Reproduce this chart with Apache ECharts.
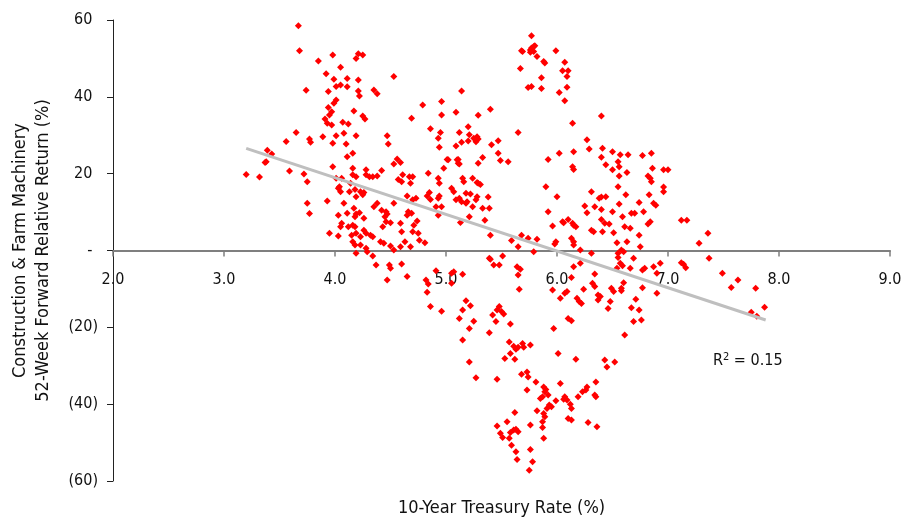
<!DOCTYPE html>
<html><head><meta charset="utf-8">
<script src="https://cdn.jsdelivr.net/npm/echarts@6/dist/echarts.min.js"></script>
<style>html,body{margin:0;padding:0;background:#fff}#c{width:903px;height:523px}</style>
</head><body><div id="c"></div>
<script>
// [10-Year Treasury Rate (%), 52-Week Forward Relative Return (%)]
const ratePoints = [
[3.20,19.8],[3.32,19.1],[3.37,22.9],[3.38,23.1],[3.39,26.1],[3.43,25.1],[3.56,28.4],[3.59,20.7],[3.65,30.7],[3.67,58.5],[3.68,52.0],
[3.85,49.3],[3.98,50.9],[4.05,47.7],[4.19,50.0],[4.21,51.2],[4.25,50.9],[3.92,46.0],[3.99,44.6],[4.11,44.8],[4.21,44.4],[4.53,45.3],
[3.74,41.7],[3.94,41.4],[4.01,42.7],[4.05,43.1],[4.11,42.6],[4.21,41.5],[4.22,40.2],[4.35,41.8],[4.38,40.8],[4.01,39.2],[3.99,38.3],
[3.94,37.2],[3.97,36.1],[3.95,35.3],[3.91,34.2],[3.93,33.1],[3.97,32.7],[4.17,36.3],[4.25,35.0],[4.27,34.2],[4.07,33.4],[4.12,32.9],
[3.77,29.0],[3.78,28.2],[3.89,29.6],[4.01,29.9],[4.08,30.5],[3.98,27.9],[4.10,27.7],[4.19,29.9],[4.16,25.3],[4.11,24.4],[4.47,29.9],
[4.48,27.7],[4.56,23.8],[4.59,22.9],[4.53,22.5],[4.79,37.9],[4.69,34.4],[4.96,38.8],[4.96,35.3],[5.14,41.5],[5.09,36.0],[4.86,31.7],
[4.95,30.7],[4.93,29.2],[5.12,30.7],[5.14,28.2],[5.20,32.2],[5.20,28.5],[4.94,26.9],[5.09,27.2],[5.01,23.7],[5.11,23.7],[5.12,22.5],
[3.72,19.9],[3.75,17.9],[3.75,12.3],[3.77,9.6],[3.93,12.9],[3.95,4.5],[3.98,21.8],[4.01,18.8],[4.04,16.6],[4.06,18.8],[4.05,15.3],
[4.08,12.3],[4.11,9.7],[4.03,9.2],[4.06,7.1],[4.05,6.2],[4.03,3.8],[4.12,6.2],[4.16,21.4],[4.16,19.7],[4.19,19.2],[4.14,17.5],
[4.13,15.3],[4.18,15.9],[4.23,15.3],[4.25,14.5],[4.26,15.1],[4.19,14.0],[4.28,21.0],[4.28,19.7],[4.31,19.2],[4.34,19.2],[4.38,19.4],
[4.42,20.8],[4.38,12.3],[4.35,11.4],[4.42,10.5],[4.46,10.1],[4.47,9.5],[4.45,8.8],[4.53,12.3],[4.17,11.0],[4.18,8.8],[4.19,9.5],
[4.22,9.8],[4.26,8.4],[4.16,6.6],[4.18,6.2],[4.19,4.5],[4.15,4.0],[4.26,5.3],[4.28,4.5],[4.32,4.0],[4.34,3.6],[4.23,3.6],[4.16,2.3],
[4.18,1.4],[4.19,-0.7],[4.23,1.4],[4.28,0.6],[4.41,2.3],[4.44,1.9],[4.50,1.2],[4.53,0.1],[4.43,6.2],[4.46,7.5],[4.50,7.2],[4.60,17.9],
[4.61,19.7],[4.57,18.5],[4.67,19.2],[4.70,19.2],[4.68,17.5],[4.65,14.2],[4.70,13.2],[4.73,13.6],[4.66,10.1],[4.69,9.7],[4.65,9.2],
[4.74,7.7],[4.71,6.6],[4.70,4.9],[4.75,4.5],[4.76,2.7],[4.81,2.0],[4.59,7.1],[4.60,4.9],[4.63,2.3],[4.68,1.0],[4.59,1.0],[4.84,20.1],
[4.85,15.1],[4.83,14.2],[4.86,13.3],[4.93,18.8],[4.94,14.2],[4.93,13.6],[4.91,11.4],[4.96,11.4],[4.93,9.2],[4.98,21.4],[5.02,23.6],
[5.05,16.2],[5.07,15.3],[5.10,23.6],[5.11,22.7],[5.09,13.2],[5.12,13.6],[5.14,12.7],[5.15,18.8],[5.16,17.9],[5.18,14.9],[5.19,12.7],
[5.24,11.4],[5.13,7.3],[5.21,8.8],[5.28,14.0],[5.29,17.5],[4.03,16.2],
[4.29,-0.3],[4.34,-1.4],[4.37,-3.8],[4.49,-3.8],[4.50,-4.6],[4.47,-7.7],[4.60,-3.5],[4.65,-6.8],[4.82,-7.7],[4.84,-8.7],[5.05,-5.9],
[4.91,-5.3],[5.39,-2.0],
[5.21,30.1],[5.25,29.2],[5.28,29.6],[5.29,29.0],[5.27,28.3],[5.40,36.8],[5.29,35.2],[5.41,27.5],[5.47,28.6],[5.47,25.3],[5.49,23.4],
[5.56,23.1],[5.33,24.2],[5.29,22.7],[4.94,17.5],[5.24,18.8],[5.28,17.7],[5.31,17.2],[5.22,14.7],[5.18,12.3],[5.27,13.2],[5.38,13.9],
[5.33,11.0],[5.39,11.0],[5.35,7.9],[5.40,4.0],[5.59,2.6],[5.65,1.0],[5.68,4.0],[5.74,3.2],[5.82,2.9],[5.79,-0.3],[5.90,16.6],
[5.92,23.7],[5.92,10.1],[6.00,14.0],[6.02,25.3],[5.96,6.4],[5.99,2.3],[5.98,1.7],[6.05,7.5],[6.06,7.2],[6.10,8.1],[6.14,7.1],
[6.15,6.6],[6.17,6.2],[6.13,3.2],[6.15,2.3],[6.15,1.4],[6.21,0.1],[6.15,25.7],[6.14,33.1],[6.14,21.8],[6.15,21.1],[6.27,28.8],
[6.29,26.4],[6.40,35.0],[6.41,26.6],[6.40,24.3],[6.44,22.3],[6.50,25.7],[6.55,23.1],[6.57,24.9],[6.64,24.9],[6.50,21.0],[6.56,21.8],
[6.56,19.4],[6.63,20.3],[6.77,24.7],[6.85,25.3],[6.86,21.4],[6.82,19.4],[6.84,18.8],[6.55,16.6],[6.31,15.3],[6.38,13.6],[6.40,13.9],
[6.44,14.0],[6.34,11.4],[6.25,11.6],[6.40,10.7],[6.50,10.1],[6.56,12.1],[6.62,14.5],[6.67,9.7],[6.70,9.7],[6.74,12.5],[6.78,10.1],
[6.83,14.5],[6.87,12.3],[6.89,11.8],[6.27,9.8],[6.40,8.1],[6.43,7.1],[6.47,6.9],[6.59,8.8],[6.31,5.3],[6.33,4.9],[6.41,4.9],
[6.51,4.6],[6.66,5.8],[6.74,4.0],[6.82,6.9],[6.84,7.5],[6.54,2.0],[6.63,2.3],[6.75,1.0],[6.55,-0.7],[6.58,0.1],[6.60,-0.3],[6.55,-1.8],
[6.69,-2.0],[6.79,-4.6],[6.87,-4.2],[6.90,-5.9],[6.93,-3.3],[6.57,-3.3],[6.59,-4.0],[6.66,-4.6],[6.54,-4.6],[5.40,-2.3],[5.43,-3.8],
[5.48,-3.8],[5.51,-1.4],[5.64,-4.2],[5.67,-4.9],[6.15,-4.2],[6.21,-3.3],[6.31,-0.7],[6.34,-6.1],[5.07,-5.5],[5.15,-6.2],
[5.77,55.9],[5.68,52.0],[5.69,51.8],[5.76,52.2],[5.77,52.7],[5.79,53.1],[5.80,53.3],[5.76,51.6],[5.79,51.8],[5.99,52.0],[5.82,50.5],
[5.88,49.2],[5.89,48.8],[6.07,49.0],[6.05,46.8],[6.10,46.8],[6.09,45.3],[5.67,47.4],[5.86,45.0],[5.74,42.4],[5.77,42.7],[5.86,42.2],
[6.02,41.1],[6.09,42.5],[6.07,39.0],[5.65,30.7],
[6.96,21.0],[7.00,21.0],[6.85,17.9],[6.96,16.5],[6.96,15.3],[7.12,7.9],[7.17,7.9],[7.36,4.5],[7.28,1.9],[6.61,6.2],[6.77,-5.1],
[7.12,-3.2],[7.14,-3.6],[7.16,-4.5],[7.37,-2.0],[7.49,-5.9],[7.57,-9.6],[7.63,-7.7],[7.79,-9.8],[7.87,-14.8],[7.75,-16.1],[7.80,-17.1],
[6.90,-11.1],[6.77,-9.7],[6.71,-12.7],[6.67,-14.9],[6.74,-15.5],[6.69,-18.5],[6.76,-18.1],[6.61,-22.0],[6.60,-8.4],[6.58,-9.8],
[6.58,-10.5],[6.49,-9.8],[6.51,-10.7],[6.48,-13.3],[6.46,-15.1],[6.39,-12.0],[6.52,-29.0],[6.43,-28.5],[6.45,-30.3],
[6.10,-17.7],[6.13,-18.3],[5.97,-20.3],[6.01,-26.8],[6.17,-28.3],[6.20,-13.3],[6.37,-12.9],[6.03,-34.6],[6.35,-34.2],[6.27,-35.5],
[6.26,-36.3],[6.23,-36.8],[6.34,-37.6],[6.35,-38.1],[6.19,-38.1],[6.07,-38.1],[6.06,-38.7],[6.09,-38.9],[6.12,-40.0],[6.13,-41.1],
[5.99,-39.1],[6.10,-43.7],[6.13,-44.1],[6.28,-44.8],[6.36,-45.9],[5.88,-48.9],[5.87,-46.1],
[4.83,-10.9],[4.86,-14.6],[4.96,-15.8],[5.05,-8.5],[5.18,-13.1],[5.22,-14.4],[5.15,-15.5],[5.12,-17.7],[5.25,-18.4],[5.21,-20.3],
[5.15,-23.3],[5.21,-29.0],[5.27,-33.1],[5.42,-16.8],[5.46,-15.5],[5.48,-14.6],[5.50,-15.9],[5.52,-16.5],[5.45,-18.5],[5.39,-21.4],
[5.58,-19.1],[5.46,-33.5],[5.57,-23.8],[5.61,-24.9],[5.63,-25.7],[5.65,-25.2],[5.58,-26.8],[5.53,-28.1],[5.62,-28.3],[5.69,-24.2],
[5.70,-25.2],[5.76,-24.6],[5.65,-6.4],[5.66,-10.1],[5.68,-32.2],[5.74,-32.9],[5.81,-34.2],[5.73,-36.3],[5.88,-35.5],[5.90,-36.2],
[5.89,-36.8],[5.92,-37.6],[5.87,-38.1],[5.85,-38.5],[5.82,-41.7],[5.93,-40.2],[5.95,-40.7],[5.91,-41.1],[5.88,-42.4],[5.89,-43.3],
[5.87,-44.6],[5.62,-42.2],[5.76,-45.4],[5.55,-44.6],[5.46,-45.7],[5.49,-47.6],[5.51,-48.7],[5.58,-47.4],[5.61,-46.7],[5.63,-46.5],
[5.65,-47.2],[5.57,-48.9],[5.59,-50.7],[5.63,-52.4],[5.64,-54.4],[5.76,-51.8],[5.78,-55.0],[5.75,-57.2],[5.73,-31.6],[5.96,-10.3],
[6.03,-12.4],[6.07,-11.1],[6.09,-10.7],[6.13,-7.0],[6.18,-12.4],[6.22,-13.8],[6.24,-10.1],[6.32,-8.5],[6.34,-9.4],[6.37,-11.6]
];
// linear trend line end points
const trendX = [3.20, 7.88];
const trendY = [26.6, -18.1];
const rSquaredLabel = '0.15';
const xTitle = '10-Year Treasury Rate (%)';
const yTitleLines = ['Construction & Farm Machinery', '52-Week Forward Relative Return (%)'];

const FONT = "'DejaVu Sans Condensed','Liberation Sans Narrow',sans-serif";
const chart = echarts.init(document.getElementById('c'), null, {renderer: 'canvas'});
chart.setOption({
  animation: false,
  backgroundColor: '#ffffff',
  grid: {left: 113, right: 13, top: 20, bottom: 42, containLabel: false, outerBoundsMode: 'none'},
  xAxis: {
    type: 'value', min: 2, max: 9, interval: 1,
    position: 'bottom', offset: -230.5,
    axisLine: {onZero: false, lineStyle: {color: '#7f7f7f', width: 2}},
    axisTick: {show: true, inside: false, length: 6, lineStyle: {color: '#7f7f7f', width: 1.5}},
    axisLabel: {margin: 21, color: '#111', fontFamily: FONT, fontSize: 16,
      formatter: v => v.toFixed(1)},
    splitLine: {show: false},
    name: xTitle, nameLocation: 'middle', nameGap: 249,
    nameTextStyle: {color: '#111', fontFamily: FONT, fontSize: 18}
  },
  yAxis: {
    type: 'value', min: -60, max: 60, interval: 20,
    axisLine: {show: true, onZero: false, lineStyle: {color: '#222', width: 1}},
    axisTick: {show: true, inside: false, length: 6, lineStyle: {color: '#222'}},
    axisLabel: {margin: 15, color: '#111', fontFamily: FONT, fontSize: 16,
      formatter: v => v === 0 ? '-{p|)}' : (v < 0 ? '(' + (-v) + ')' : v + '{p|)}'),
      rich: {p: {color: 'rgba(0,0,0,0)', fontFamily: FONT, fontSize: 16}}},
    splitLine: {show: false},
    name: yTitleLines.join('\n'), nameLocation: 'middle', nameGap: 58, nameRotate: 90,
    nameTextStyle: {color: '#111', fontFamily: FONT, fontSize: 18, lineHeight: 23}
  },
  series: [
    {type: 'scatter', data: ratePoints, symbol: 'diamond', symbolSize: 7,
     itemStyle: {color: '#ff0000', opacity: 1}, z: 2},
    {type: 'line', data: trendX.map((x, i) => [x, trendY[i]]), symbol: 'none',
     lineStyle: {color: '#bfbfbf', width: 3}, z: 3, silent: true}
  ],
  graphic: [{
    type: 'text', left: 713, top: 352,
    style: {text: 'R{s|2} = ' + rSquaredLabel, fill: '#111', font: '16px ' + FONT,
      rich: {s: {fontSize: 11, verticalAlign: 'top', padding: [0,0,6,0], fill: '#111', fontFamily: FONT}}}
  }]
});
</script></body></html>
